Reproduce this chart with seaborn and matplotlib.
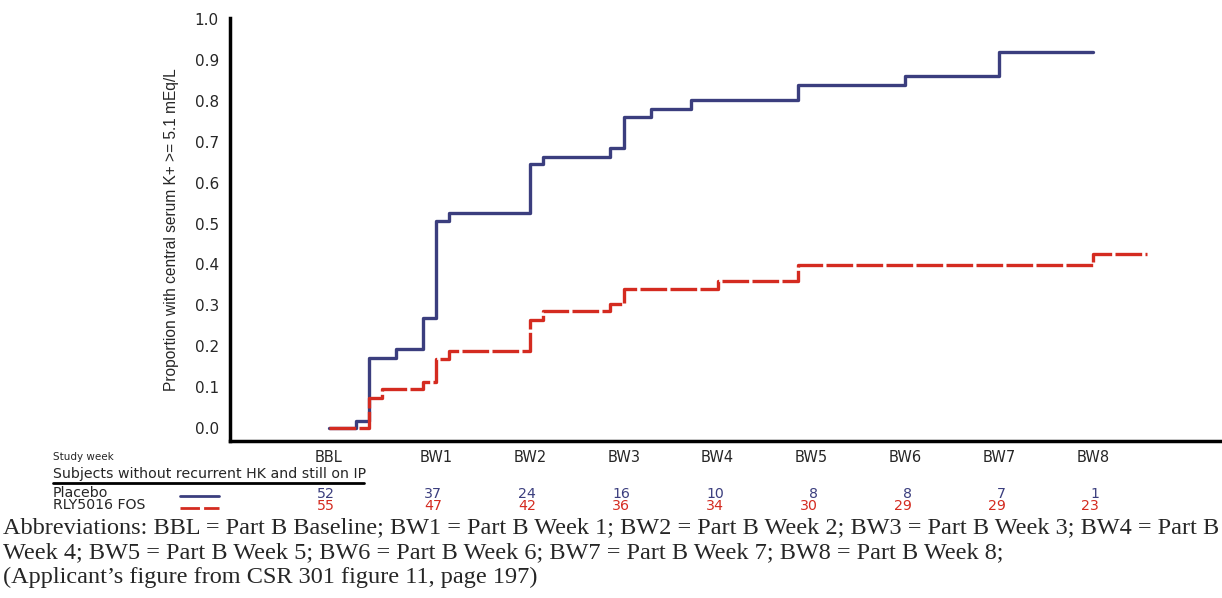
import numpy as np
import pandas as pd
import matplotlib
matplotlib.use("Agg")
import matplotlib.pyplot as plt
import matplotlib.transforms as mtransforms
from matplotlib.lines import Line2D
import seaborn as sns

# step curves (x in study days, BBL = day -1)
placebo_day = [-1, 1, 2, 4, 6, 7, 8, 14, 15, 20, 21, 23, 26, 34, 42, 49, 56]
placebo_prop = [0, 0.018, 0.172, 0.193, 0.268, 0.507, 0.525, 0.645, 0.663,
                0.684, 0.761, 0.781, 0.802, 0.840, 0.861, 0.919, 0.919]
fos_day = [-1, 2, 3, 6, 7, 8, 14, 15, 20, 21, 28, 34, 56, 60]
fos_prop = [0, 0.073, 0.095, 0.112, 0.169, 0.187, 0.264, 0.285, 0.302,
            0.340, 0.360, 0.399, 0.425, 0.425]

week_labels = ["BBL", "BW1", "BW2", "BW3", "BW4", "BW5", "BW6", "BW7", "BW8"]
week_days = [-1, 7, 14, 21, 28, 35, 42, 49, 56]
placebo_risk = [52, 37, 24, 16, 10, 8, 8, 7, 1]
fos_risk = [55, 47, 42, 36, 34, 30, 29, 29, 23]

arms = ["Placebo", "RLY5016 FOS"]
navy = "#3b3e7e"
red = "#d42b20"

df = pd.concat([
    pd.DataFrame({"day": placebo_day, "prop": placebo_prop, "arm": arms[0]}),
    pd.DataFrame({"day": fos_day, "prop": fos_prop, "arm": arms[1]}),
], ignore_index=True)

sns.set_style("white")
plt.rcParams["font.family"] = ["DejaVu Sans"]

W, H = 1222, 598
fig = plt.figure(figsize=(W / 100, H / 100), dpi=100)
ax = fig.add_axes([230 / W, 1 - 441 / H, 1 - 230 / W, (441 - 18) / H])

sns.lineplot(data=df, x="day", y="prop", hue="arm", style="arm",
             palette={arms[0]: navy, arms[1]: red},
             dashes={arms[0]: "", arms[1]: (8, 1.0)},
             estimator=None, drawstyle="steps-post", linewidth=2.4,
             legend=False, ax=ax)

ax.set_xlim(-8.36, 65.6)
ax.set_ylim(-0.032, 1.003)
ax.set_yticks(np.arange(0, 1.01, 0.1))
ax.set_yticklabels([f"{v:.1f}" for v in np.arange(0, 1.01, 0.1)], fontsize=11)
ax.set_xticks([])
ax.tick_params(axis="y", length=0, pad=8)
ax.set_xlabel("")
ax.set_ylabel("Proportion with central serum K+ >= 5.1 mEq/L", fontsize=11.2,
              family=["Liberation Sans"], labelpad=11)
for s in ["top", "right"]:
    ax.spines[s].set_visible(False)
for s in ["left", "bottom"]:
    ax.spines[s].set_linewidth(2.5)
    ax.spines[s].set_color("black")

# risk table under the axes
trans = mtransforms.blended_transform_factory(ax.transData, fig.transFigure)
fy = lambda px: 1 - px / H

fig.text(53 / W, fy(457), "Study week", fontsize=7.5, va="center")
for lab, d in zip(week_labels, week_days):
    fig.text(d, fy(457), lab, transform=trans, fontsize=10.5, ha="center", va="center")

fig.text(53 / W, fy(474), "Subjects without recurrent HK and still on IP",
         fontsize=10.2, va="center")
fig.add_artist(Line2D([53 / W, 364 / W], [fy(483), fy(483)], color="black", lw=2))

fig.text(53 / W, fy(493), arms[0], fontsize=10.2, va="center")
fig.text(53 / W, fy(505), arms[1], fontsize=10.2, va="center")
fig.add_artist(Line2D([180 / W, 219 / W], [fy(496), fy(496)], color=navy, lw=2))
fig.add_artist(Line2D([180 / W, 219 / W], [fy(508), fy(508)], color=red, lw=2,
                      dashes=(7, 1.5)))

for d, n1, n2 in zip(week_days, placebo_risk, fos_risk):
    fig.text(d + 0.45, fy(494), str(n1), transform=trans, fontsize=10.2,
             ha="right", va="center", color=navy)
    fig.text(d + 0.45, fy(506), str(n2), transform=trans, fontsize=10.2,
             ha="right", va="center", color=red)

# footnote
foot = [
    "Abbreviations: BBL = Part B Baseline; BW1 = Part B Week 1; BW2 = Part B Week 2; "
    "BW3 = Part B Week 3; BW4 = Part B",
    "Week 4; BW5 = Part B Week 5; BW6 = Part B Week 6; BW7 = Part B Week 7; "
    "BW8 = Part B Week 8;",
    "(Applicant\u2019s figure from CSR 301 figure 11, page 197)",
]
for line, ypx in zip(foot, [528, 553, 577]):
    fig.text(3 / W, fy(ypx), line, fontsize=17.5, family=["Liberation Serif"],
             va="center")

fig.savefig("out.png", dpi=100)
